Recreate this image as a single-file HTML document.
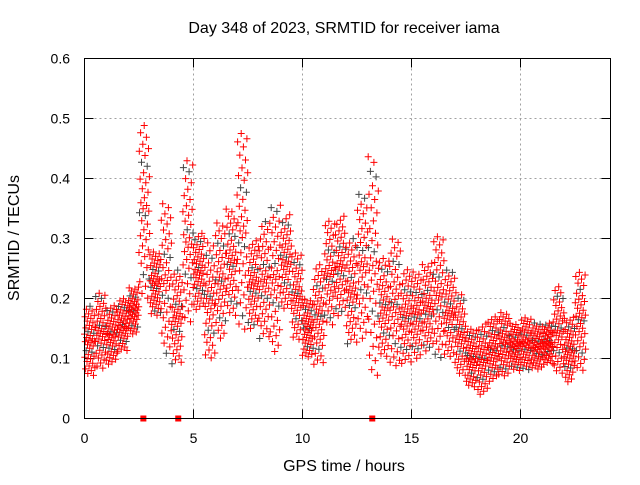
<!DOCTYPE html>
<html><head><meta charset="utf-8"><style>
body{margin:0;background:#fff;}
svg text{font-family:"Liberation Sans",sans-serif;font-size:14px;fill:#000;}
svg text.big{font-size:16px;}
</style></head><body>
<svg id="chart" width="640" height="480" xmlns="http://www.w3.org/2000/svg">
<rect width="640" height="480" fill="#fff"/>
<text class="big" x="344" y="33" text-anchor="middle">Day 348 of 2023, SRMTID for receiver iama</text>
<text class="big" x="344" y="471" text-anchor="middle">GPS time / hours</text>
<text class="big" transform="translate(19,238) rotate(-90)" text-anchor="middle">SRMTID / TECUs</text>
<g id="grid"></g>
<g id="ticks"></g>
<g id="marks"></g>
<rect x="84.5" y="58.5" width="526" height="360" fill="none" stroke="#000" stroke-width="1"/>
</svg>
<script>
const binStarts=[0,0.5,1,1.5,2,2.5,3,3.5,4,4.5,5,5.5,6,6.5,7,7.5,8,8.5,9,9.5,10,10.5,11,11.5,12,12.5,13,13.5,14,14.5,15,15.5,16,16.5,17,17.5,18,18.5,19,19.5,20,20.5,21,21.5,22,22.5];
const lowVals=[0.07,0.08,0.09,0.11,0.14,0.2,0.17,0.1,0.09,0.15,0.18,0.1,0.13,0.17,0.14,0.15,0.13,0.11,0.18,0.13,0.1,0.09,0.15,0.17,0.12,0.13,0.07,0.1,0.08,0.09,0.1,0.11,0.1,0.1,0.07,0.05,0.04,0.06,0.07,0.08,0.08,0.08,0.09,0.07,0.06,0.08];
const highVals=[0.19,0.21,0.19,0.2,0.22,0.5,0.28,0.36,0.25,0.43,0.31,0.3,0.33,0.35,0.48,0.3,0.33,0.36,0.34,0.28,0.2,0.26,0.33,0.34,0.3,0.38,0.44,0.27,0.3,0.25,0.25,0.26,0.31,0.25,0.21,0.15,0.16,0.17,0.18,0.16,0.17,0.16,0.16,0.22,0.17,0.25];
const zeroTimes=[2.7,4.3,13.2];
const xTicks=[0,5,10,15,20];
const yTicks=[0,0.1,0.2,0.3,0.4,0.5,0.6];
const X0=84.5,PX=21.8,Y0=418.5,PY=600;
const xs=t=>X0+t*PX, ys=v=>Y0-v*PY;
const NS="http://www.w3.org/2000/svg";
const grid=document.getElementById('grid'),ticks=document.getElementById('ticks'),marks=document.getElementById('marks');
function mk(tag,attrs,parent){const e=document.createElementNS(NS,tag);for(const k in attrs)e.setAttribute(k,attrs[k]);parent.appendChild(e);return e;}
yTicks.forEach(v=>{
  const y=ys(v);
  if(v>0&&v<0.6){const g=mk('line',{x1:84.5,x2:610.5,y1:y,y2:y,stroke:'#a0a0a0','stroke-dasharray':'2,3'},grid);
  }
  mk('line',{x1:84.5,x2:93.5,y1:y,y2:y,stroke:'#000'},ticks);
  mk('line',{x1:601.5,x2:610.5,y1:y,y2:y,stroke:'#000'},ticks);
  const t=mk('text',{x:70,y:y+5,'text-anchor':'end'},ticks);t.textContent=v===0?'0':v.toFixed(1);
  
});
xTicks.forEach(v=>{
  const x=xs(v);
  if(v>0){const g=mk('line',{x1:x,x2:x,y1:58.5,y2:418.5,stroke:'#a0a0a0','stroke-dasharray':'2,3'},grid);
  }
  mk('line',{x1:x,x2:x,y1:409.5,y2:418.5,stroke:'#000'},ticks);
  mk('line',{x1:x,x2:x,y1:58.5,y2:67.5,stroke:'#000'},ticks);
  const t=mk('text',{x:x,y:443,'text-anchor':'middle'},ticks);t.textContent=v;
  
});
let red='',gray='';
const PHI=0.6180339887;
let n=0;
binStarts.forEach((t0,i)=>{
  const lo=lowVals[i],hi=highVals[i];
  for(let j=0;j<40;j++){
    n++;
    const x=xs(t0+j*0.5/40);
    const f=(n*PHI)%1;
    const c=2*f-1;
    const g=0.5+0.5*Math.sign(c)*Math.pow(Math.abs(c),1.2);
    const y=ys(lo+(hi-lo)*g);
    const s=`M${(x-3.5).toFixed(1)} ${y.toFixed(1)}h7M${x.toFixed(1)} ${(y-3.5).toFixed(1)}v7`;
    if(n%7===0)gray+=s;else red+=s;
  }
});
const pg=mk('path',{d:gray,stroke:'#444',fill:'none','stroke-width':1},marks);

const pr=mk('path',{d:red,stroke:'#f00',fill:'none','stroke-width':1},marks);

zeroTimes.forEach(t=>{
  const r=mk('rect',{x:xs(t)-3,y:ys(0)-3,width:6,height:6,fill:'#f00'},marks);
  
});
</script>
</body></html>
